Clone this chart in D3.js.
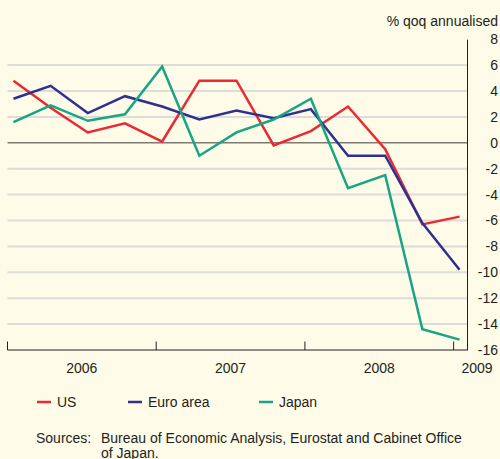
<!DOCTYPE html>
<html lang="en">
<head>
    <meta charset="UTF-8">
    <title>GDP growth</title>
    <script src="https://cdn.jsdelivr.net/npm/d3@7"></script>
    <style>
        body { margin: 0; background: #fefbe9; }
        text { font-family: "Liberation Sans", Arial, sans-serif; fill: #231f20; }
    </style>
</head>
<body>
<script>
    // quarterly GDP growth, 2006 Q1 .. 2009 Q1
    const quarters = d3.range(13).map(i => 2006 + i / 4)
    const us = [4.8, 2.7, 0.8, 1.5, 0.1, 4.8, 4.8, -0.2, 0.9, 2.8, -0.5, -6.3, -5.7]
    const euro = [3.4, 4.4, 2.3, 3.6, 2.8, 1.8, 2.5, 1.9, 2.6, -1.0, -1.0, -6.2, -9.8]
    const japan = [1.6, 2.9, 1.7, 2.2, 5.9, -1.0, 0.8, 1.8, 3.4, -3.5, -2.5, -14.4, -15.2]
    const years = [2006, 2007, 2008, 2009]
    const yTicks = d3.range(-16, 9, 2)

    const series = [
        {name: 'US', values: us, color: '#ec2830'},
        {name: 'Euro area', values: euro, color: '#2e3192'},
        {name: 'Japan', values: japan, color: '#17a582'}
    ]

    const [width, height] = [500, 459]
    const svg = d3.select('body').append('svg')
        .attr('width', width)
        .attr('height', height)

    svg.append('rect').attr('width', width).attr('height', height).attr('fill', '#fefbe9')

    const x = d3.scaleLinear().domain([2006, 2009.09]).range([7.5, 467])
    const y = d3.scaleLinear().domain([-16, 8]).range([350, 39.2])
    // points sit a little after the start of each quarter
    const offset = 0.04

    // grid
    svg.append('g').selectAll('line')
        .data(yTicks.filter(d => d !== 0 && d !== -16 && d !== 8))
        .enter().append('line')
        .attr('x1', x(2006)).attr('x2', x.range()[1])
        .attr('y1', d => y(d)).attr('y2', d => y(d))
        .attr('stroke', '#dcdcd8')
        .attr('stroke-width', 2)

    svg.append('line')
        .attr('x1', x(2006)).attr('x2', x.range()[1])
        .attr('y1', y(0)).attr('y2', y(0))
        .attr('stroke', '#7d7b72')
        .attr('stroke-width', 1.5)

    // right axis
    const yAxis = d3.axisRight(y).tickValues(yTicks).tickSize(0).tickPadding(0)
    const yg = svg.append('g').attr('transform', `translate(${x.range()[1]},0)`).call(yAxis)
    yg.select('.domain').attr('stroke', '#231f20').attr('stroke-width', 1)
    yg.selectAll('text')
        .attr('x', 31)
        .attr('text-anchor', 'end')
        .attr('font-size', 14)
        .attr('font-family', '"Liberation Sans", Arial, sans-serif')
        .attr('fill', '#231f20')
        .text(d => d)

    svg.append('text')
        .attr('x', 498).attr('y', 26)
        .attr('text-anchor', 'end')
        .attr('font-size', 14)
        .text('% qoq annualised')

    // bottom axis
    const base = y(-16)
    svg.append('line')
        .attr('x1', x(2006)).attr('x2', x.range()[1])
        .attr('y1', base).attr('y2', base)
        .attr('stroke', '#231f20')
    svg.append('g').selectAll('line')
        .data(years)
        .enter().append('line')
        .attr('x1', d => x(d)).attr('x2', d => x(d))
        .attr('y1', base).attr('y2', base - 8.5)
        .attr('stroke', '#231f20')
    svg.append('g').selectAll('text')
        .data(years)
        .enter().append('text')
        .attr('x', d => d === 2009 ? 477 : x(d + 0.5))
        .attr('y', 373)
        .attr('text-anchor', 'middle')
        .attr('font-size', 14)
        .text(d => d)

    // lines
    const line = d3.line()
        .x((d, i) => x(quarters[i] + offset))
        .y(d => y(d))
    svg.append('g').selectAll('path')
        .data(series)
        .enter().append('path')
        .attr('d', d => line(d.values))
        .attr('fill', 'none')
        .attr('stroke', d => d.color)
        .attr('stroke-width', 2.5)
        .attr('stroke-linejoin', 'miter')

    // legend
    const legendX = [37, 128, 259]
    const lg = svg.append('g').selectAll('g')
        .data(series)
        .enter().append('g')
        .attr('transform', (d, i) => `translate(${legendX[i]},402)`)
    lg.append('line')
        .attr('x1', 0).attr('x2', 14)
        .attr('stroke', d => d.color)
        .attr('stroke-width', 2.5)
    lg.append('text')
        .attr('x', 20).attr('y', 5)
        .attr('font-size', 14)
        .text(d => d.name)

    // source note
    svg.append('text')
        .attr('x', 36).attr('y', 443)
        .attr('font-size', 14)
        .text('Sources:')
    svg.append('text')
        .attr('x', 101).attr('y', 443)
        .attr('font-size', 14)
        .text('Bureau of Economic Analysis, Eurostat and Cabinet Office')
    svg.append('text')
        .attr('x', 101).attr('y', 458)
        .attr('font-size', 14)
        .text('of Japan.')
</script>
</body>
</html>
